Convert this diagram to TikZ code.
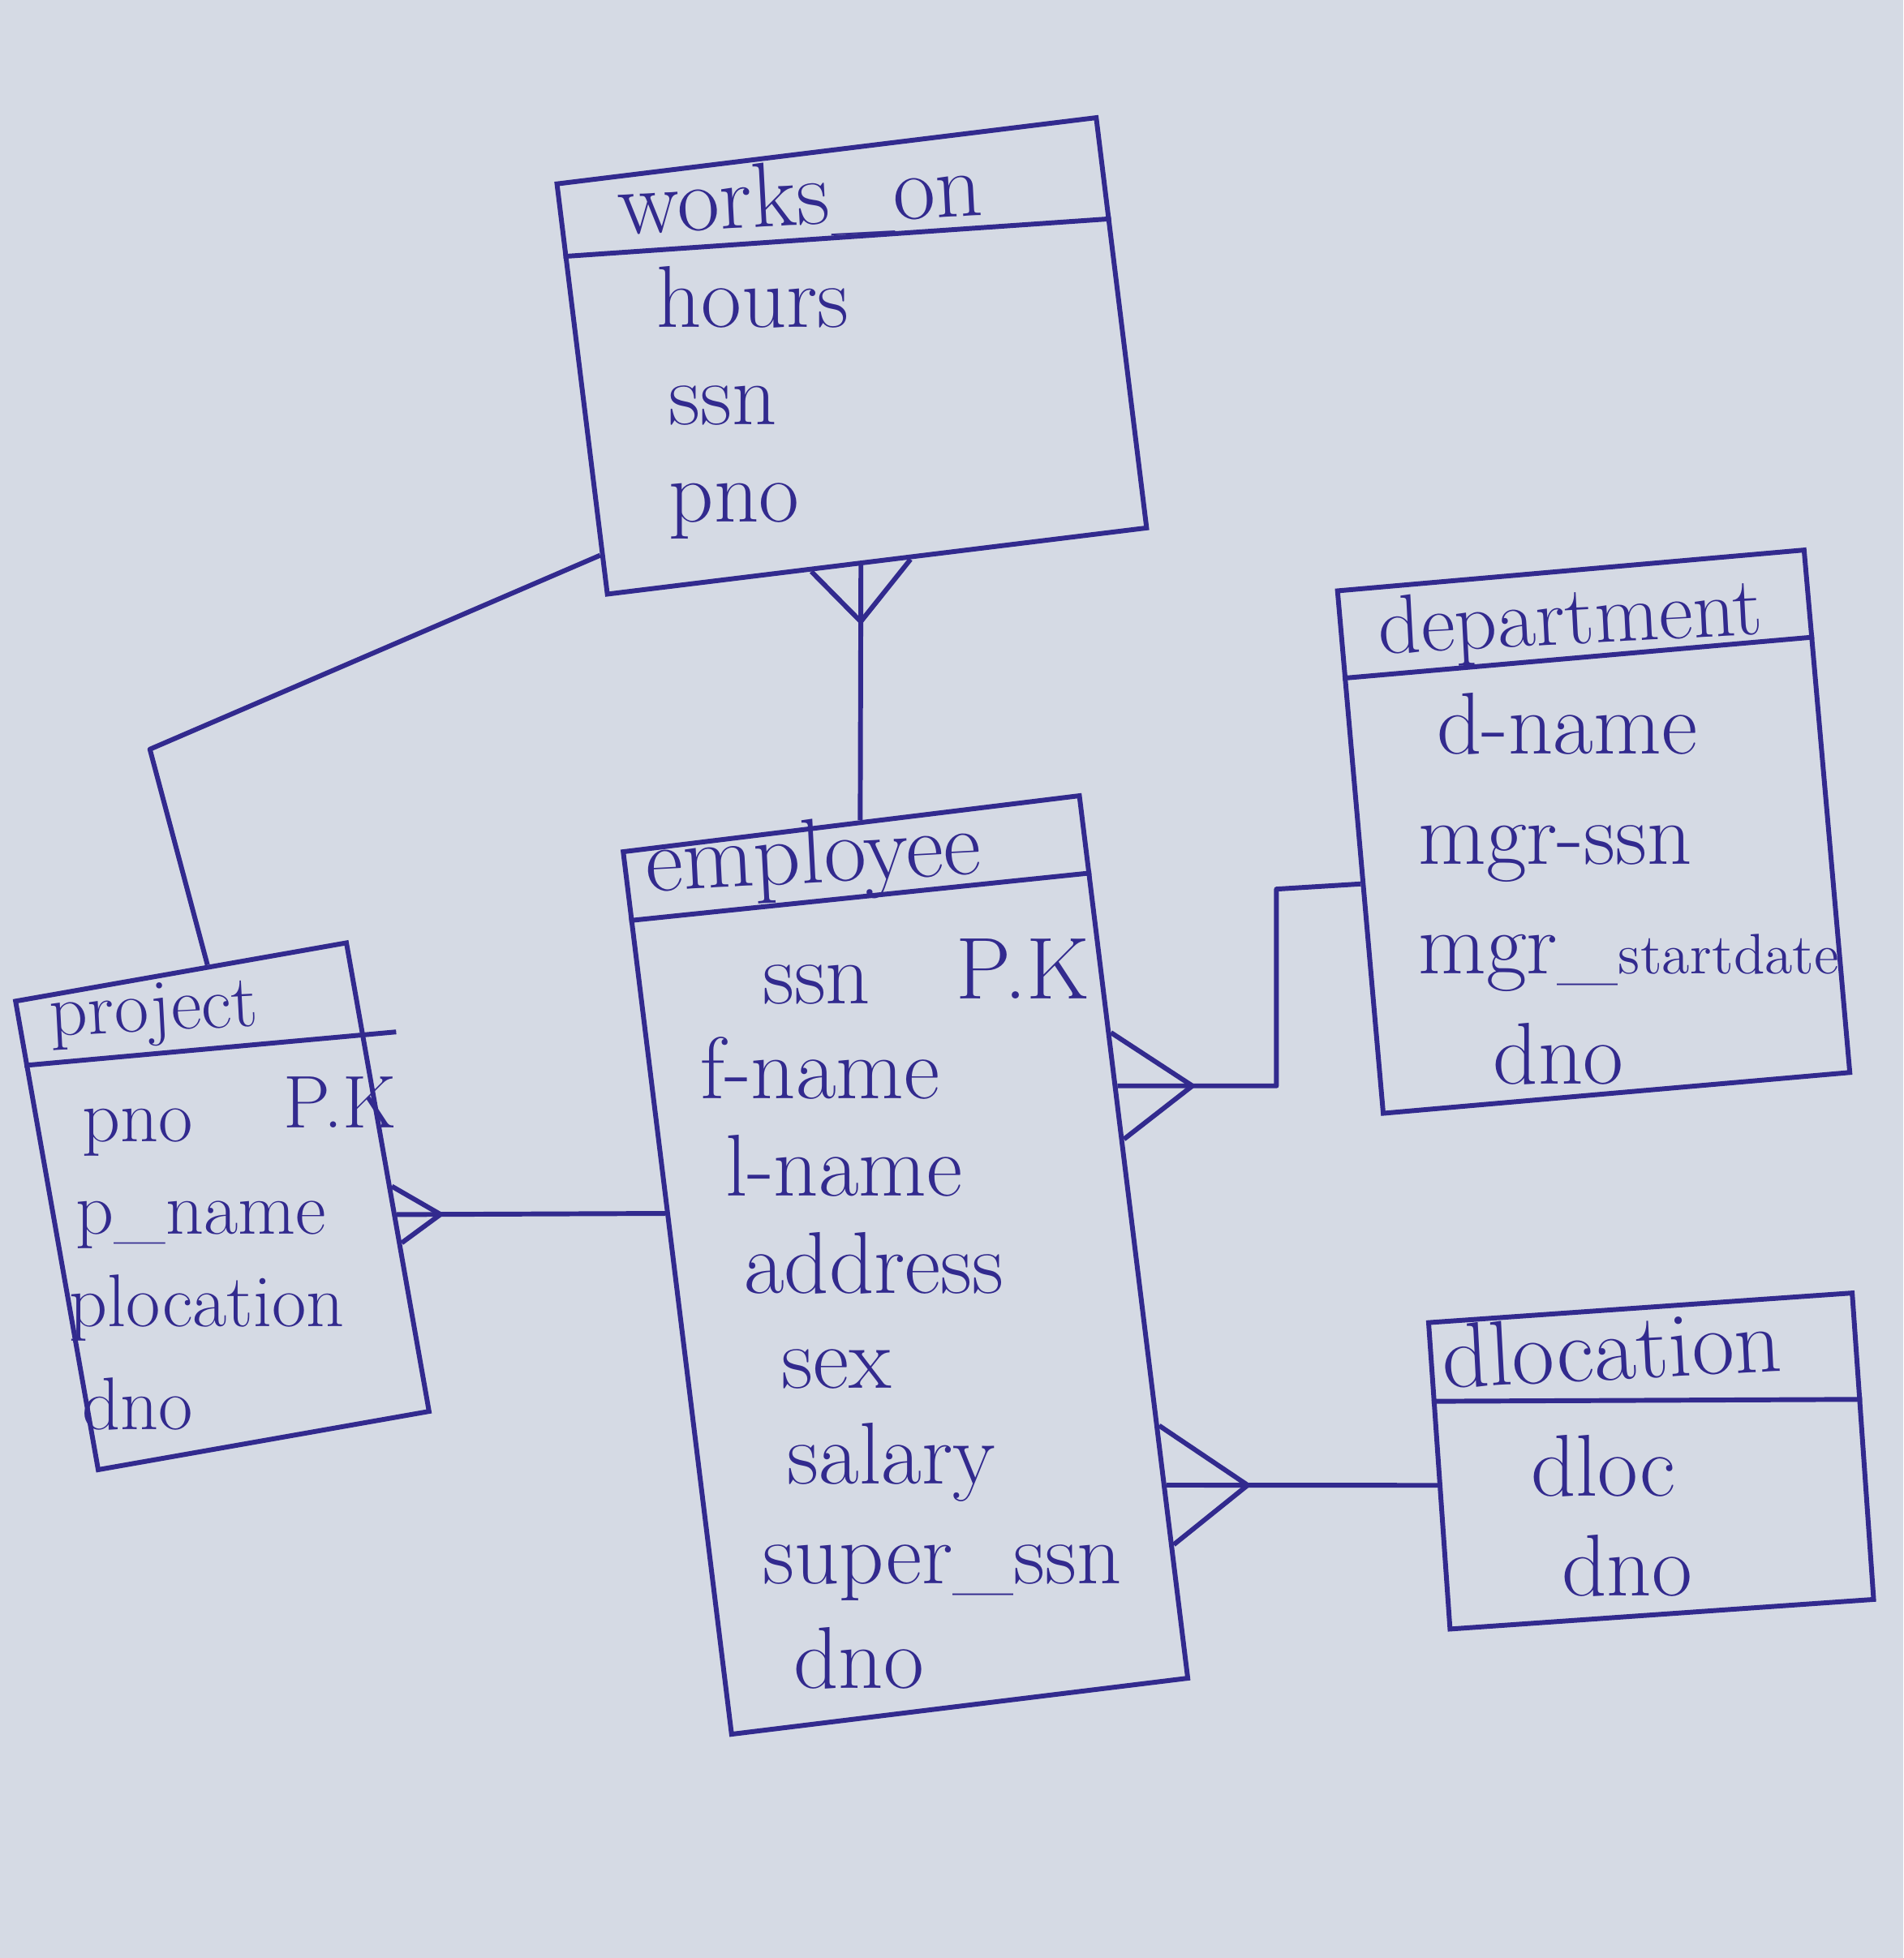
\documentclass[tikz,border=0pt]{standalone}
\usepackage{tikz}
\usetikzlibrary{calc}
\definecolor{ink}{RGB}{50,42,142}
\definecolor{paper}{RGB}{213,218,228}
\tikzset{
    entity/.style={draw=ink, line width=1.1pt, inner sep=0pt}, % the table boxes
    attr/.style={text=ink, anchor=base west, inner sep=0pt, font=\fontsize{20}{24}\selectfont}, % column names
    title/.style={attr, rotate=3, font=\fontsize{21}{25}\selectfont}, % table names, a bit tilted
    smallattr/.style={attr, font=\fontsize{17}{20}\selectfont}, % the project box is written smaller
    link/.style={draw=ink, line width=1.1pt, line join=round}, % relationship lines
    }
\newcommand{\crowfoot}[5]{% tip, point on the box side, the two ends of that side, spread
  \draw[link] ($(#2)!#5!(#3)$) -- (#1) -- ($(#2)!#5!(#4)$);%
}

\begin{document}
\begin{tikzpicture}[x=0.1mm, y=-0.1mm]
    \useasboundingbox (0,0) rectangle (1524,1568);
    \fill[paper] (0,0) rectangle (1524,1568);

    % tables
    \node[entity, minimum width=4.35cm, minimum height=3.31cm, rotate=7] (works) at (682,285) {};
    \node[entity, minimum width=3.68cm, minimum height=7.12cm, rotate=7] (emp) at (725,1013) {};
    \node[entity, minimum width=2.69cm, minimum height=3.81cm, rotate=10] (proj) at (178,966) {};
    \node[entity, minimum width=3.75cm, minimum height=4.20cm, rotate=5] (dept) at (1276,666) {};
    \node[entity, minimum width=3.40cm, minimum height=2.46cm, rotate=4] (dloc) at (1322,1170) {};

    % lines under the titles
    \draw[link] ($(works.north west)!0.18!(works.south west)$) -- ($(works.north east)!0.25!(works.south east)$);
    \draw[link] ($(emp.north west)!0.08!(emp.south west)$) -- ($(emp.north east)!0.09!(emp.south east)$);
    \draw[link, shorten >=-2.5mm] ($(proj.north west)!0.14!(proj.south west)$) -- ($(proj.north east)!0.2!(proj.south east)$);
    \draw[link] ($(dept.north west)!0.17!(dept.south west)$) -- ($(dept.north east)!0.17!(dept.south east)$);
    \draw[link] ($(dloc.north west)!0.26!(dloc.south west)$) -- ($(dloc.north east)!0.35!(dloc.south east)$);

    % works_on
    \node[title] (wo-title) at (495,188) {works\_on};
    \node[attr] (wo-hours) at (525,262) {hours};
    \node[attr] (wo-ssn) at (535,340) {ssn};
    \node[attr] (wo-pno) at (535,418) {pno};

    % employee
    \node[title] (emp-title) at (517,714) {employee};
    \node[attr] (emp-ssn) at (610,804) {ssn};
    \node[attr] (emp-pk) at (765,800) {P.K};
    \node[attr] (emp-fname) at (560,880) {f-name};
    \node[attr] (emp-lname) at (580,958) {l-name};
    \node[attr] (emp-address) at (595,1036) {address};
    \node[attr] (emp-sex) at (625,1112) {sex};
    \node[attr] (emp-salary) at (630,1188) {salary};
    \node[attr] (emp-super) at (610,1268) {super\_ssn};
    \node[attr] (emp-dno) at (635,1352) {dno};

    % project
    \node[smallattr, rotate=3] (pr-title) at (40,830) {project};
    \node[smallattr] (pr-pno) at (65,914) {pno};
    \node[smallattr] (pr-pk) at (226,903) {P.K};
    \node[smallattr] (pr-pname) at (60,988) {p\_name};
    \node[smallattr] (pr-ploc) at (55,1062) {plocation};
    \node[smallattr] (pr-dno) at (65,1145) {dno};

    % department
    \node[title, font=\fontsize{19}{22}\selectfont] (dp-title) at (1104,524) {department};
    \node[attr] (dp-dname) at (1150,604) {d-name};
    \node[attr] (dp-mgrssn) at (1135,692) {mgr-ssn};
    \node[attr] (dp-start) at (1135,780) {mgr\_{\fontsize{13}{15}\selectfont startdate}};
    \node[attr] (dp-dno) at (1195,868) {dno};

    % dlocation
    \node[title] (dl-title) at (1155,1112) {dlocation};
    \node[attr] (dl-dloc) at (1225,1198) {dloc};
    \node[attr] (dl-dno) at (1250,1278) {dno};

    % works_on -- employee
    \coordinate (wob) at ($(works.south west)!0.47!(works.south east)$);
    \coordinate (empt) at ($(emp.north west)!0.52!(emp.north east)$);
    \coordinate (wocf) at ($(wob)!4.5mm!(empt)$);
    \draw[link] (wob) -- (empt);
    \crowfoot{wocf}{wob}{works.south west}{works.south east}{4mm}

    % works_on -- project
    \coordinate (wol) at ($(works.north west)!0.9!(works.south west)$);
    \coordinate (prbend) at (120,600);
    \coordinate (prt) at ($(proj.north west)!0.58!(proj.north east)$);
    \draw[link] (wol) -- (prbend) -- (prt);

    % project -- employee
    \coordinate (prr) at ($(proj.north east)!0.58!(proj.south east)$);
    \coordinate (eml) at ($(emp.north west)!0.41!(emp.south west)$);
    \coordinate (prcf) at ($(prr)!3.5mm!(eml)$);
    \draw[link] (prr) -- (eml);
    \crowfoot{prcf}{prr}{proj.north east}{proj.south east}{2.3mm}

    % employee -- department
    \coordinate (emr1) at ($(emp.north east)!0.33!(emp.south east)$);
    \coordinate (dpl) at ($(dept.north west)!0.56!(dept.south west)$);
    \coordinate (dpbend) at (1022,712);
    \coordinate (emcf1) at ($(emr1)+(60,0)$);
    \draw[link] (emr1) -| (dpbend) -- (dpl);
    \crowfoot{emcf1}{emr1}{emp.north east}{emp.south east}{4.3mm}

    % employee -- dlocation
    \coordinate (emr2) at ($(emp.north east)!0.78!(emp.south east)$);
    \coordinate (dll) at ($(dloc.north west)!0.53!(dloc.south west)$);
    \coordinate (emcf2) at ($(emr2)!6.5mm!(dll)$);
    \draw[link] (emr2) -- (dll);
    \crowfoot{emcf2}{emr2}{emp.north east}{emp.south east}{4.8mm}
\end{tikzpicture}
\end{document}
